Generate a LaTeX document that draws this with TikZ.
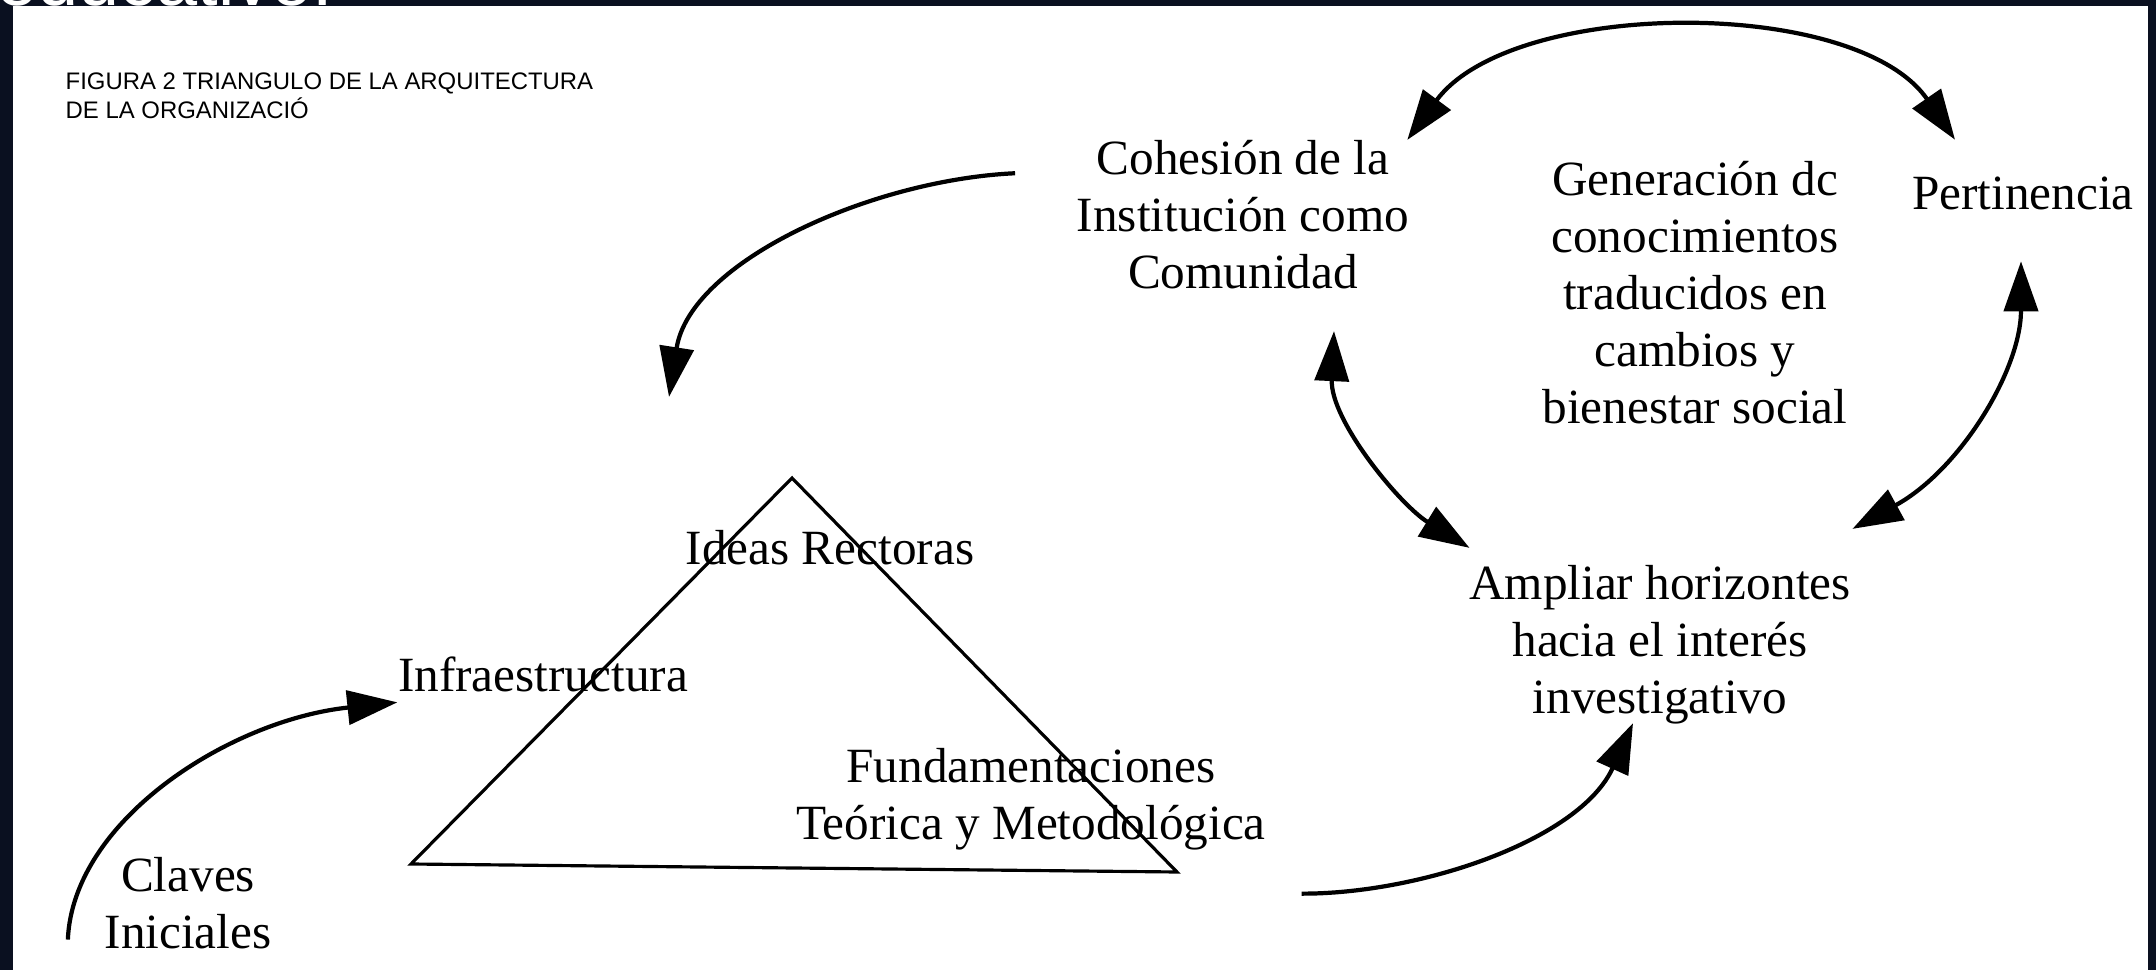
\documentclass[tikz,border=0pt]{standalone}
\usepackage{fontspec}
\setmainfont{Liberation Serif}
\newfontfamily\capfont{Liberation Sans}
\usetikzlibrary{arrows.meta}
\definecolor{frame}{RGB}{10,16,32}
\begin{document}
\begin{tikzpicture}[x=0.01cm,y=-0.01cm,
  lbl/.style={font=\fontsize{14}{16.2}\selectfont,align=center,inner sep=4pt},
  arr/.style={line width=1.2pt,-{Triangle[length=0.5cm,width=0.34cm]}},
  duo/.style={line width=1.2pt,{Triangle[length=0.5cm,width=0.34cm]}-{Triangle[length=0.5cm,width=0.34cm]}}]
  \useasboundingbox (0,0) rectangle (2156,970);
  \clip (0,0) rectangle (2156,970);
  \fill[frame] (0,0) rectangle (2156,970);
  \fill[white] (13,6) rectangle (2148,970);
  \node[white,font=\capfont\fontsize{21}{24}\selectfont,anchor=base west,inner sep=0] (head) at (-4,6) {educativo.};
  \node[font=\capfont\fontsize{6.8}{8.2}\selectfont,align=left,anchor=north west,inner sep=0] (cap) at (65,72)
    {FIGURA 2 TRIANGULO DE LA ARQUITECTURA\\DE LA ORGANIZACIÓ};
  \node[lbl] (coh) at (1243,215) {Cohesión de la\\Institución como\\Comunidad};
  \node[lbl] (gen) at (1695,293) {Generación dc\\conocimientos\\traducidos en\\cambios y\\bienestar social};
  \node[lbl] (per) at (2023,193) {Pertinencia};
  \node[lbl] (amp) at (1660,645) {Ampliar horizontes\\hacia el interés\\investigativo};
  \node[lbl] (ideas) at (830,548) {Ideas Rectoras};
  \node[lbl] (infra) at (543,674) {Infraestructura};
  \node[lbl] (fund) at (1031,799) {Fundamentaciones\\Teórica y Metodológica};
  \node[lbl] (claves) at (188,903) {Claves\\Iniciales};
  \coordinate (apex) at (792,478);
  \coordinate (bl) at (411,864);
  \coordinate (br) at (1177,872);
  \draw[line width=0.9pt] (apex) -- (bl) -- (br) -- cycle;
  \draw[duo] ([shift={(10,14)}]coh.30) .. controls (1512,-2) and (1856,-4) .. ([shift={(-68,-22)}]per.north);
  \draw[arr] ([xshift=-0.47cm]coh.167) .. controls (870,180) and (690,262) .. ([shift={(-2,-119)}]ideas.north west);
  \draw[duo] ([shift={(91,27)}]coh.south) .. controls (1330,420) and (1400,505) .. ([shift={(15,-3)}]amp.north west);
  \draw[duo] ([shift={(-2,37)}]per.south) .. controls (2021,370) and (1960,470) .. ([shift={(-13,-22)}]amp.north east);
  \draw[arr] ([shift={(21,29)}]fund.south east) .. controls (1420,894) and (1580,840) .. ([shift={(-27,-16)}]amp.south);
  \draw[arr] ([shift={(-22,-24)}]claves.south west) .. controls (73,820) and (230,720) .. ([shift={(14,-4)}]infra.south west);
\end{tikzpicture}
\end{document}
